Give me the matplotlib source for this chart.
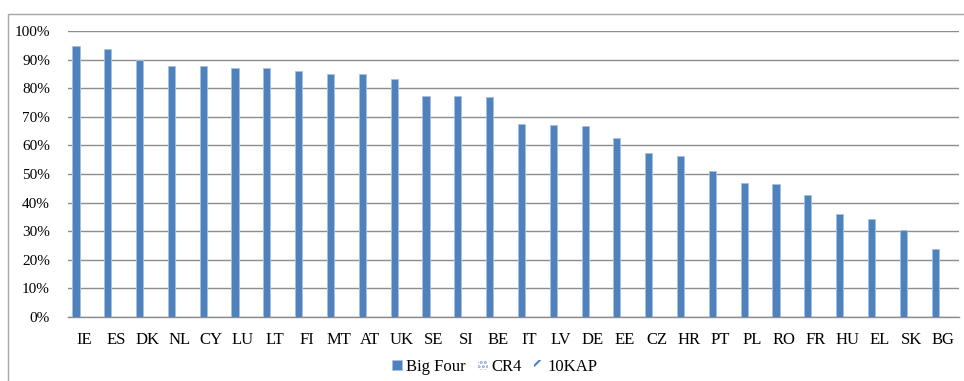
import numpy as np
import matplotlib.pyplot as plt
from matplotlib.patches import Rectangle
from matplotlib.ticker import PercentFormatter

plt.rcParams['font.family'] = ['Liberation Serif', 'DejaVu Serif']
plt.rcParams['hatch.linewidth'] = 1.5

countries = ['IE', 'ES', 'DK', 'NL', 'CY', 'LU', 'LT', 'FI', 'MT', 'AT', 'UK', 'SE', 'SI', 'BE',
             'IT', 'LV', 'DE', 'EE', 'CZ', 'HR', 'PT', 'PL', 'RO', 'FR', 'HU', 'EL', 'SK', 'BG']
big_four = [94.9, 93.7, 89.9, 87.9, 87.7, 87.1, 87.0, 86.0, 85.0, 84.9, 83.1, 77.2, 77.2, 77.0,
            67.6, 67.0, 66.7, 62.6, 57.2, 56.2, 50.9, 46.7, 46.6, 42.7, 35.9, 34.4, 30.3, 23.7]
# no figures reported for these two series
cr4 = [np.nan] * len(countries)
kap10 = [np.nan] * len(countries)

fig = plt.figure(figsize=(9.64, 3.81), dpi=100)
fig.patches.append(Rectangle((8 / 964, -0.01), 1.0, 1 - 14 / 381 + 0.01, transform=fig.transFigure,
                             facecolor='none', edgecolor='#a6a6a6', linewidth=1.0))
ax = fig.add_axes([68 / 964, 1 - 317 / 381, (959 - 68) / 964, (317 - 31) / 381])

x = np.arange(len(countries))
w = 0.25
ax.bar(x - w, big_four, w * 0.9, color='#4f81bd', edgecolor='#a7c0de', linewidth=0.6,
       label='Big Four', zorder=3)
ax.bar(x, cr4, w, facecolor='white', edgecolor='#8eaad8', hatch='....', linewidth=0,
       label='CR4', zorder=3)
ax.bar(x + w, kap10, w, facecolor='white', edgecolor='#4f81bd', hatch='//', linewidth=0,
       label='10KAP', zorder=3)

ax.set_xlim(-0.5, len(countries) - 0.5)
ax.set_ylim(0, 100)
ax.set_yticks(np.arange(0, 101, 10))
ax.yaxis.set_major_formatter(PercentFormatter(decimals=0))
ax.set_xticks(x)
ax.set_xticklabels(countries)
ax.tick_params(axis='both', length=0, colors='black')
ax.tick_params(axis='x', pad=11, labelsize=12)
ax.tick_params(axis='y', pad=13, labelsize=11)
ax.grid(axis='y', color='#8c8c8c', linewidth=1.0, zorder=0)
for s in ['top', 'right', 'left']:
    ax.spines[s].set_visible(False)
ax.spines['bottom'].set_color('#8c8c8c')
ax.spines['bottom'].set_linewidth(1.0)

ax.legend(loc='center', bbox_to_anchor=(495 / 964, 1 - 367 / 381), bbox_transform=fig.transFigure,
          ncol=3, frameon=False, fontsize=12, handlelength=0.6, handleheight=0.6,
          handletextpad=0.25, columnspacing=0.7)

fig.savefig('out.png', dpi=100)
